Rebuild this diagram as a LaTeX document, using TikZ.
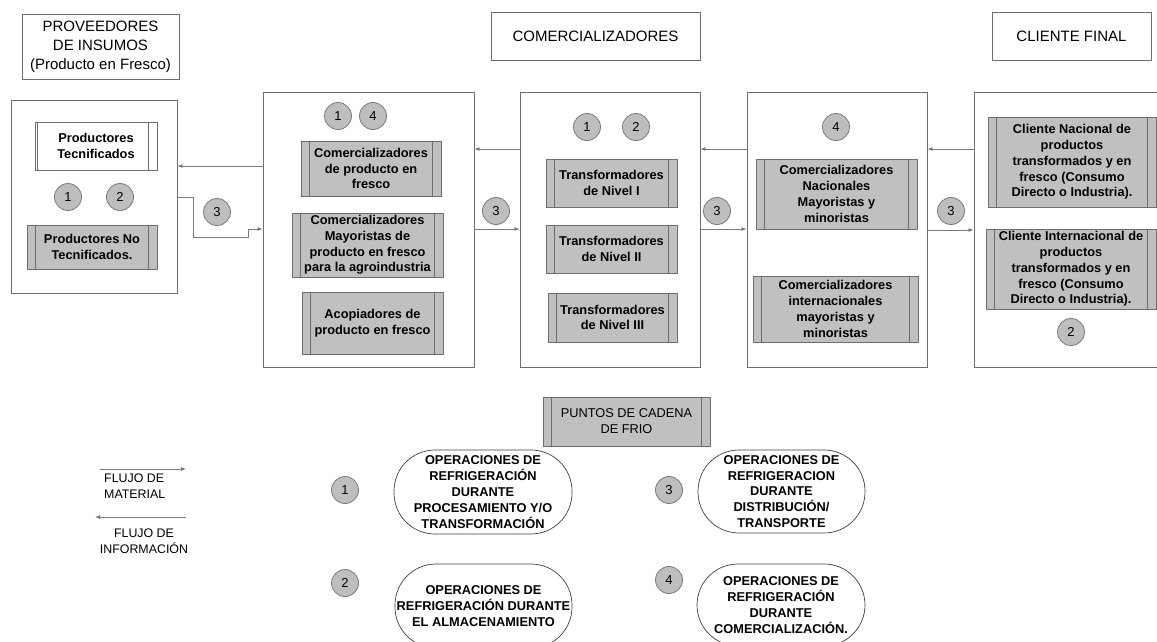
\documentclass[tikz,border=0pt]{standalone}
\usepackage{fontspec}
\setmainfont{Liberation Sans}
\usetikzlibrary{arrows.meta,calc}
\definecolor{boxline}{HTML}{6E6E6E}
\definecolor{fillgray}{HTML}{C0C0C0}
\definecolor{circfill}{HTML}{BEBEBE}
\definecolor{arrowgray}{HTML}{7A7A7A}
\tikzset{
  bigbox/.style={draw=boxline, line width=0.9pt, fill=white, inner sep=0pt},
  head/.style={draw=boxline, line width=0.8pt, fill=white, inner sep=0pt, align=center, font=\fontsize{15}{19}\selectfont},
  procbox/.style 2 args={draw=boxline, line width=0.8pt, fill=fillgray, inner sep=0pt, align=center,
    font=\fontsize{12.8}{15.8}\selectfont\bfseries,
    path picture={
      \draw[boxline, line width=0.8pt] ([xshift=#1]path picture bounding box.south west) -- ([xshift=#1]path picture bounding box.north west);
      \draw[boxline, line width=0.8pt] ([xshift=-#2]path picture bounding box.south east) -- ([xshift=-#2]path picture bounding box.north east);}},
  proc/.style={procbox={8.5pt}{8.5pt}},
  numc/.style={circle, draw=arrowgray, fill=circfill, minimum size=27pt, inner sep=0pt, line width=0.8pt, font=\fontsize{13}{15}\selectfont},
  flow/.style={draw=arrowgray, line width=0.8pt, -{Latex[length=5pt,width=4pt]}},
  stad/.style={draw=black!75, line width=0.7pt, fill=white, rounded corners=41pt, inner sep=0pt, align=center, font=\fontsize{12.8}{15.8}\selectfont\bfseries},
  legtext/.style={inner sep=0pt, font=\fontsize{12.4}{16}\selectfont}
}
\begin{document}
\begin{tikzpicture}[x=1pt,y=-1pt]
\useasboundingbox (0,0) rectangle (1157,641);
\clip (0,0) rectangle (1157,641);
% headers
\node[head, minimum width=157pt, minimum height=65pt] (hprov) at (100.5,46.5) {PROVEEDORES\\DE INSUMOS\\(Producto en Fresco)};
\node[head, minimum width=209pt, minimum height=48pt] (hcom) at (595.5,36) {COMERCIALIZADORES};
\node[head, minimum width=159pt, minimum height=48pt] (hcli) at (1071.5,36) {CLIENTE FINAL};
% big boxes
\node[bigbox, minimum width=166pt, minimum height=193pt] (A) at (94,196.5) {};
\node[bigbox, minimum width=211pt, minimum height=275pt] (B) at (368.5,229.5) {};
\node[bigbox, minimum width=180pt, minimum height=275pt] (C) at (610,229.5) {};
\node[bigbox, minimum width=180pt, minimum height=275pt] (D) at (837,229.5) {};
\node[bigbox, minimum width=190pt, minimum height=275pt] (E) at (1069,229.5) {};
% box A contents
\node[procbox={2pt}{9pt}, fill=white, minimum width=122pt, minimum height=48pt] (pt) at (96,146) {Productores\\Tecnificados};
\node[numc] (a1) at (68,197) {1};
\node[numc] (a2) at (120,197) {2};
\node[proc, minimum width=130pt, minimum height=44pt] (pnt) at (92,247) {Productores No\\Tecnificados.};
% box B contents
\node[numc] (b1) at (338,116) {1};
\node[numc] (b4) at (373,116) {4};
\node[proc, minimum width=140pt, minimum height=55pt] (bb1) at (371,168.5) {Comercializadores\\de producto en\\fresco};
\node[proc, minimum width=151pt, minimum height=64pt] (bb2) at (367.5,245) {Comercializadores\\Mayoristas de\\producto en fresco\\para la agroindustria};
\node[proc, minimum width=141pt, minimum height=62pt] (bb3) at (372.5,323) {Acopiadores de\\producto en fresco};
% box C contents
\node[numc] (c1) at (587,127) {1};
\node[numc] (c2) at (636,127) {2};
\node[proc, minimum width=131pt, minimum height=48pt] (cc1) at (611.5,183) {Transformadores\\de Nivel I};
\node[proc, minimum width=131pt, minimum height=48pt] (cc2) at (611.5,249) {Transformadores\\de Nivel II};
\node[proc, minimum width=129pt, minimum height=49pt] (cc3) at (612.5,317.5) {Transformadores\\de Nivel III};
% box D contents
\node[numc] (d4) at (836,127) {4};
\node[proc, minimum width=161pt, minimum height=70pt] (dd1) at (836.5,194) {Comercializadores\\Nacionales\\Mayoristas y\\minoristas};
\node[proc, minimum width=165pt, minimum height=66pt] (dd2) at (835.5,309) {Comercializadores\\internacionales\\mayoristas y\\minoristas};
% box E contents
\node[proc, minimum width=168pt, minimum height=90pt] (ee1) at (1072,162) {Cliente Nacional de\\productos\\transformados y en\\fresco (Consumo\\Directo o Industria).};
\node[proc, minimum width=170pt, minimum height=80pt] (ee2) at (1071,269) {Cliente Internacional de\\productos\\transformados y en\\fresco (Consumo\\Directo o Industria).};
\node[numc] (e2) at (1071,332) {2};
% between-box circles
\node[numc] (m1) at (217,212) {3};
\node[numc] (m2) at (496,211) {3};
\node[numc] (m3) at (717,211) {3};
\node[numc] (m4) at (951,211) {3};
% connectors
\coordinate (yi1) at (0,166);
\coordinate (yi2) at (0,149);
\coordinate (ym1) at (0,197);
\coordinate (ym2) at (0,229);
\coordinate (ym3) at (0,230);
\draw[flow] (B.west |- yi1) -- (A.east |- yi1);
\draw[flow] (C.west |- yi2) -- (B.east |- yi2);
\draw[flow] (D.west |- yi2) -- (C.east |- yi2);
\draw[flow] (E.west |- yi2) -- (D.east |- yi2);
\draw[flow] (A.east |- ym1) -- (193,197) -- (193,237) -- (248,237) -- (248,229) -- (B.west |- ym2);
\draw[flow] (B.east |- ym2) -- (C.west |- ym2);
\draw[flow] (C.east |- ym2) -- (D.west |- ym2);
\draw[flow] (D.east |- ym3) -- (E.west |- ym3);
% legend
\coordinate (lm1) at (100,469);
\coordinate (lm2) at (186,469);
\coordinate (li1) at (186,517);
\coordinate (li2) at (95,517);
\draw[flow] (lm1) -- (lm2);
\draw[flow] (li1) -- (li2);
\node[legtext, anchor=west, align=left] (tmat) at (104,486) {FLUJO DE\\MATERIAL};
\node[legtext, align=center] (tinf) at (144,541) {FLUJO DE\\INFORMACIÓN};
% cold chain
\node[proc, font=\fontsize{12.8}{16}\selectfont, minimum width=167pt, minimum height=49pt] (pcf) at (626.5,421.5) {PUNTOS DE CADENA\\DE FRIO};
\node[numc] (l1) at (345,490) {1};
\node[numc] (l2) at (345,583) {2};
\node[numc] (l3) at (669,490) {3};
\node[numc] (l4) at (669,580) {4};
\node[stad, minimum width=178pt, minimum height=84pt] (s1) at (483,492) {OPERACIONES DE\\REFRIGERACIÓN\\DURANTE\\PROCESAMIENTO Y/O\\TRANSFORMACIÓN};
\node[stad, minimum width=177pt, minimum height=84pt] (s2) at (483.5,606) {OPERACIONES DE\\REFRIGERACIÓN DURANTE\\EL ALMACENAMIENTO};
\node[stad, minimum width=167pt, minimum height=83pt] (s3) at (781.5,491.5) {OPERACIONES DE\\REFRIGERACION\\DURANTE\\DISTRIBUCIÓN/\\TRANSPORTE};
\node[stad, minimum width=168pt, minimum height=82pt] (s4) at (781,605) {OPERACIONES DE\\REFRIGERACIÓN\\DURANTE\\COMERCIALIZACIÓN.};
\end{tikzpicture}
\end{document}
